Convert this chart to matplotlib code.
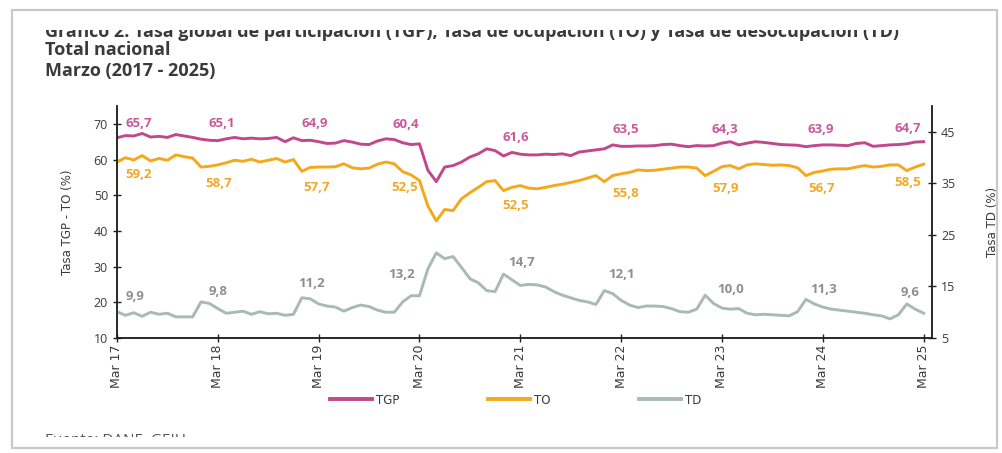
import matplotlib.pyplot as plt
from matplotlib.patches import Rectangle
from matplotlib import font_manager
import numpy as np

# monthly series, Mar 2017 .. Mar 2025
tgp = [66.1, 66.7, 66.6, 67.3, 66.3, 66.5, 66.2, 67.0, 66.6, 66.2, 65.7, 65.4,
       65.3, 65.8, 66.2, 65.8, 66.0, 65.8, 65.9, 66.2, 65.0, 66.1, 65.3, 65.4,
       65.0, 64.5, 64.6, 65.3, 64.9, 64.3, 64.2, 65.2, 65.8, 65.6, 64.7, 64.2,
       64.4, 57.0, 53.8, 57.9, 58.3, 59.3, 60.7, 61.6, 63.0, 62.5, 61.0, 62.0,
       61.5, 61.3, 61.3, 61.5, 61.4, 61.6, 61.1, 62.1, 62.4, 62.7, 63.0, 64.1,
       63.7, 63.7, 63.8, 63.8, 63.9, 64.2, 64.3, 63.9, 63.6, 63.9, 63.8, 63.9,
       64.6, 65.0, 64.1, 64.6, 65.0, 64.8, 64.5, 64.2, 64.1, 64.0, 63.6, 63.9,
       64.1, 64.1, 64.0, 63.9, 64.5, 64.7, 63.7, 63.9, 64.1, 64.2, 64.4, 64.9,
       65.0]
to = [59.3, 60.5, 59.9, 61.1, 59.6, 60.3, 59.8, 61.3, 60.8, 60.4, 57.9, 58.1,
      58.5, 59.1, 59.8, 59.5, 60.1, 59.3, 59.8, 60.3, 59.3, 60.0, 56.7, 57.8,
      57.9, 57.9, 58.0, 58.8, 57.7, 57.4, 57.6, 58.7, 59.3, 58.8, 56.6, 55.7,
      54.1, 47.0, 42.8, 46.0, 45.7, 49.0, 50.7, 52.2, 53.8, 54.1, 51.3, 52.2,
      52.7, 52.0, 51.8, 52.2, 52.7, 53.1, 53.6, 54.1, 54.8, 55.5, 53.8, 55.5,
      56.0, 56.4, 57.1, 56.9, 57.0, 57.3, 57.6, 57.9, 57.9, 57.6, 55.5, 56.7,
      58.0, 58.3, 57.4, 58.5, 58.8, 58.6, 58.4, 58.5, 58.3, 57.7, 55.5, 56.4,
      56.8, 57.3, 57.4, 57.4, 57.9, 58.3, 57.9, 58.1, 58.5, 58.5, 56.9, 57.9,
      58.7]
td = [10.1, 9.4, 9.9, 9.2, 10.0, 9.6, 9.8, 9.1, 9.1, 9.1, 12.0, 11.7,
      10.7, 9.8, 10.0, 10.2, 9.6, 10.1, 9.7, 9.8, 9.4, 9.6, 12.8, 12.6,
      11.6, 11.2, 11.0, 10.2, 10.9, 11.4, 11.1, 10.4, 10.0, 10.0, 12.0, 13.2,
      13.2, 18.4, 21.5, 20.4, 20.8, 18.7, 16.5, 15.7, 14.2, 14.0, 17.4, 16.3,
      15.2, 15.4, 15.3, 14.9, 14.0, 13.3, 12.8, 12.3, 12.0, 11.5, 14.2, 13.6,
      12.3, 11.4, 10.9, 11.2, 11.2, 11.1, 10.7, 10.1, 10.0, 10.6, 13.3, 11.7,
      10.8, 10.6, 10.7, 9.8, 9.5, 9.6, 9.5, 9.4, 9.3, 10.1, 12.5, 11.6,
      11.0, 10.6, 10.4, 10.2, 10.0, 9.8, 9.5, 9.3, 8.7, 9.5, 11.6, 10.6,
      9.8]

tick_labels = ['Mar 17', 'Mar 18', 'Mar 19', 'Mar 20', 'Mar 21',
               'Mar 22', 'Mar 23', 'Mar 24', 'Mar 25']

# march values printed on the chart
tgp_march = ['65,7', '65,1', '64,9', '60,4', '61,6', '63,5', '64,3', '63,9', '64,7']
to_march = ['59,2', '58,7', '57,7', '52,5', '52,5', '55,8', '57,9', '56,7', '58,5']
td_march = ['9,9', '9,8', '11,2', '13,2', '14,7', '12,1', '10,0', '11,3', '9,6']

# where those labels sit (month index, axis units)
tgp_lab_pos = [(2.6, 70.0), (12.5, 70.2), (23.5, 70.0), (34.4, 69.7), (47.4, 66.3),
               (60.5, 68.5), (72.3, 68.3), (83.7, 68.3), (94.1, 68.8)]
to_lab_pos = [(2.6, 55.9), (12.1, 53.3), (23.7, 52.2), (34.2, 52.2), (47.4, 47.2),
              (60.5, 50.6), (72.4, 52.0), (83.8, 52.0), (94.1, 53.6)]
td_lab_pos = [(2.1, 13.0), (12.0, 14.1), (23.2, 15.5), (33.9, 17.4), (48.2, 19.6),
              (60.0, 17.4), (73.0, 14.5), (84.1, 14.5), (94.4, 13.9)]

c_tgp = '#c2488d'
c_to = '#f5a81c'
c_td = '#a9bab3'
c_text = '#3a3a3a'

installed = {f.name for f in font_manager.fontManager.ttflist}
narrow = 'Liberation Sans Narrow' if 'Liberation Sans Narrow' in installed else 'DejaVu Sans'
plt.rcParams['font.family'] = ['Open Sans', 'DejaVu Sans']

fig = plt.figure(figsize=(10.03, 4.53), dpi=100)

# card frame
fig.patches.append(Rectangle((0.012, 0.011), 0.982, 0.967, transform=fig.transFigure,
                             fill=False, edgecolor='#c9c9c9', linewidth=1.6, zorder=10))

fig.text(0.045, 1 - 37 / 453, 'Gráfico 2. Tasa global de participación (TGP), Tasa de ocupación (TO) '
         'y Tasa de desocupación (TD)', fontsize=13, fontweight='bold', color=c_text,
         va='baseline')
# the screenshot cuts the top of the first line and the bottom of the source line
fig.patches.append(Rectangle((0.02, 1 - 30 / 453), 0.97, 18 / 453, transform=fig.transFigure,
                             facecolor='white', edgecolor='none', zorder=5))
fig.text(0.045, 1 - 55 / 453, 'Total nacional', fontsize=13, fontweight='bold',
         color=c_text, va='baseline')
fig.text(0.045, 1 - 76 / 453, 'Marzo (2017 - 2025)', fontsize=13, fontweight='bold',
         color=c_text, va='baseline')
fig.text(0.045, 1 - 444 / 453, 'Fuente: DANE, GEIH', fontsize=11, color='#555555',
         va='baseline')
fig.patches.append(Rectangle((0.02, 0.012), 0.97, 11 / 453, transform=fig.transFigure,
                             facecolor='white', edgecolor='none', zorder=5))

ax = fig.add_axes([117 / 1003, 1 - 338 / 453, (932 - 117) / 1003, (338 - 106) / 453])
ax2 = ax.twinx()

x = np.arange(len(tgp))
l1, = ax.plot(x, tgp, color=c_tgp, lw=2.1, label='TGP')
l2, = ax.plot(x, to, color=c_to, lw=2.1, label='TO')
l3, = ax2.plot(x, td, color=c_td, lw=2.1, label='TD')

ax.set_xlim(0, 97)
ax.set_ylim(10, 75)
ax2.set_ylim(5, 50)
ax.set_yticks(range(10, 71, 10))
ax2.set_yticks(range(5, 46, 10))
ax.set_xticks(range(0, 97, 12))
ax.set_xticklabels(tick_labels, rotation=90, family=narrow, fontsize=8)

for a in (ax, ax2):
    a.spines['top'].set_visible(False)
    for s in ('left', 'right', 'bottom'):
        a.spines[s].set_color('#222222')
        a.spines[s].set_linewidth(1.1)
    a.tick_params(direction='inout', length=6, width=1, colors='#222222', labelsize=9,
                  labelcolor=c_text)
ax.tick_params(axis='x', pad=2)

ax.set_ylabel('Tasa TGP - TO (%)', family=narrow, fontsize=8.5, color=c_text, labelpad=14)
ax2.set_ylabel('Tasa TD (%)', family=narrow, fontsize=8.5, color=c_text, labelpad=22)

for txt, (px, py) in zip(tgp_march, tgp_lab_pos):
    ax.text(px, py, txt, color='#c9599a', fontsize=9.5, fontweight='bold',
            ha='center', va='center')
for txt, (px, py) in zip(to_march, to_lab_pos):
    ax.text(px, py, txt, color='#f0a828', fontsize=9.5, fontweight='bold',
            ha='center', va='center')
for txt, (px, py) in zip(td_march, td_lab_pos):
    ax2.text(px, py, txt, color='#8f8f8f', fontsize=9.5, fontweight='bold',
             ha='center', va='center')

leg = fig.legend(handles=[l1, l2, l3], loc='center', bbox_to_anchor=(0.514, 1 - 400 / 453),
                 ncol=3, frameon=False, handlelength=3.6, handletextpad=0.3,
                 columnspacing=7.5, prop={'family': narrow, 'size': 8.5})
for h in leg.legend_handles:
    h.set_linewidth(2.8)
for t in leg.get_texts():
    t.set_color(c_text)

fig.savefig('out.png', dpi=100)
